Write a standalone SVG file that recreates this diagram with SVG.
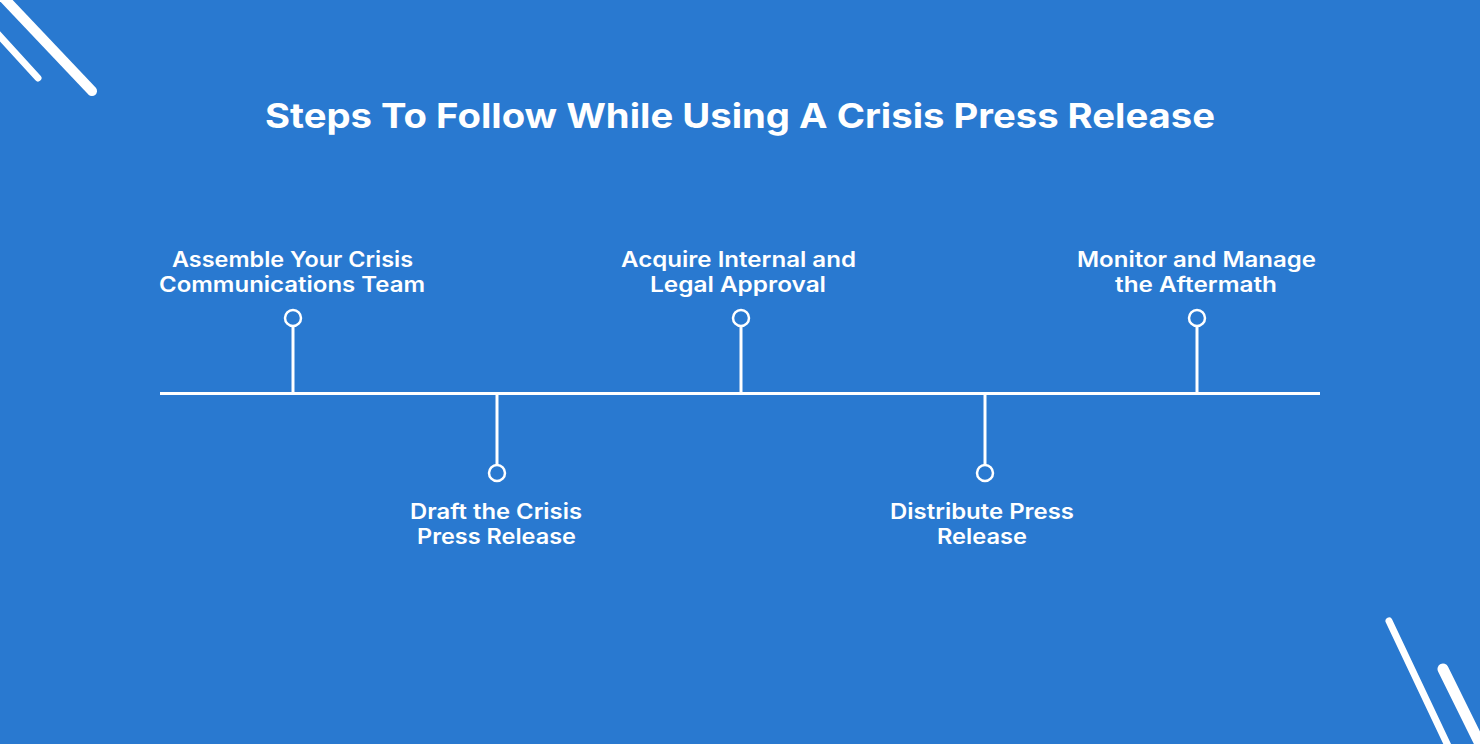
<svg xmlns="http://www.w3.org/2000/svg" width="1480" height="744" viewBox="0 0 1480 744">
<style>
.deco{stroke:#fff;stroke-linecap:round;fill:none}
.tl{stroke:#fff;stroke-width:3;fill:none}
.dot{stroke:#fff;stroke-width:2.5;fill:#2979d0}
.lbl{font-family:Inter,"Open Sans","Liberation Sans",sans-serif;font-weight:600;font-size:21px;fill:#fff;text-anchor:middle}
.title{font-family:Inter,"Open Sans","Liberation Sans",sans-serif;font-weight:700;font-size:34px;fill:#fff;text-anchor:middle}
</style>
<rect width="1480" height="744" fill="#2979d0"/>
<g id="decor">
<line class="deco" x1="2" y1="-4" x2="92" y2="91" stroke-width="10"/>
<line class="deco" x1="-4" y1="32" x2="38" y2="78" stroke-width="7"/>
<line class="deco" x1="1389" y1="621" x2="1450" y2="750" stroke-width="7"/>
<line class="deco" x1="1443" y1="669" x2="1484" y2="752" stroke-width="11"/>
</g>
<text id="title" class="title" x="740" y="128" textLength="950" lengthAdjust="spacingAndGlyphs">Steps To Follow While Using A Crisis Press Release</text>
<g id="connectors">
<line class="tl" x1="160" y1="393.5" x2="1320" y2="393.5"/>
<line class="tl" x1="293" y1="326" x2="293" y2="393"/>
<line class="tl" x1="497" y1="394" x2="497" y2="465"/>
<line class="tl" x1="741" y1="326" x2="741" y2="393"/>
<line class="tl" x1="985" y1="394" x2="985" y2="465"/>
<line class="tl" x1="1197" y1="326" x2="1197" y2="393"/>
</g>
<g id="step1"><circle class="dot" cx="293" cy="318" r="8"/><text class="lbl" x="292.5" y="267" textLength="241" lengthAdjust="spacingAndGlyphs">Assemble Your Crisis</text><text class="lbl" x="292" y="292" textLength="266" lengthAdjust="spacingAndGlyphs">Communications Team</text></g>
<g id="step2"><circle class="dot" cx="497" cy="473" r="8"/><text class="lbl" x="496" y="519" textLength="172" lengthAdjust="spacingAndGlyphs">Draft the Crisis</text><text class="lbl" x="496.5" y="544" textLength="159" lengthAdjust="spacingAndGlyphs">Press Release</text></g>
<g id="step3"><circle class="dot" cx="741" cy="318" r="8"/><text class="lbl" x="738.5" y="267" textLength="235" lengthAdjust="spacingAndGlyphs">Acquire Internal and</text><text class="lbl" x="738" y="292" textLength="176" lengthAdjust="spacingAndGlyphs">Legal Approval</text></g>
<g id="step4"><circle class="dot" cx="985" cy="473" r="8"/><text class="lbl" x="982" y="519" textLength="184" lengthAdjust="spacingAndGlyphs">Distribute Press</text><text class="lbl" x="982" y="544" textLength="90" lengthAdjust="spacingAndGlyphs">Release</text></g>
<g id="step5"><circle class="dot" cx="1197" cy="318" r="8"/><text class="lbl" x="1196.5" y="267" textLength="239" lengthAdjust="spacingAndGlyphs">Monitor and Manage</text><text class="lbl" x="1196" y="292" textLength="162" lengthAdjust="spacingAndGlyphs">the Aftermath</text></g>
</svg>
